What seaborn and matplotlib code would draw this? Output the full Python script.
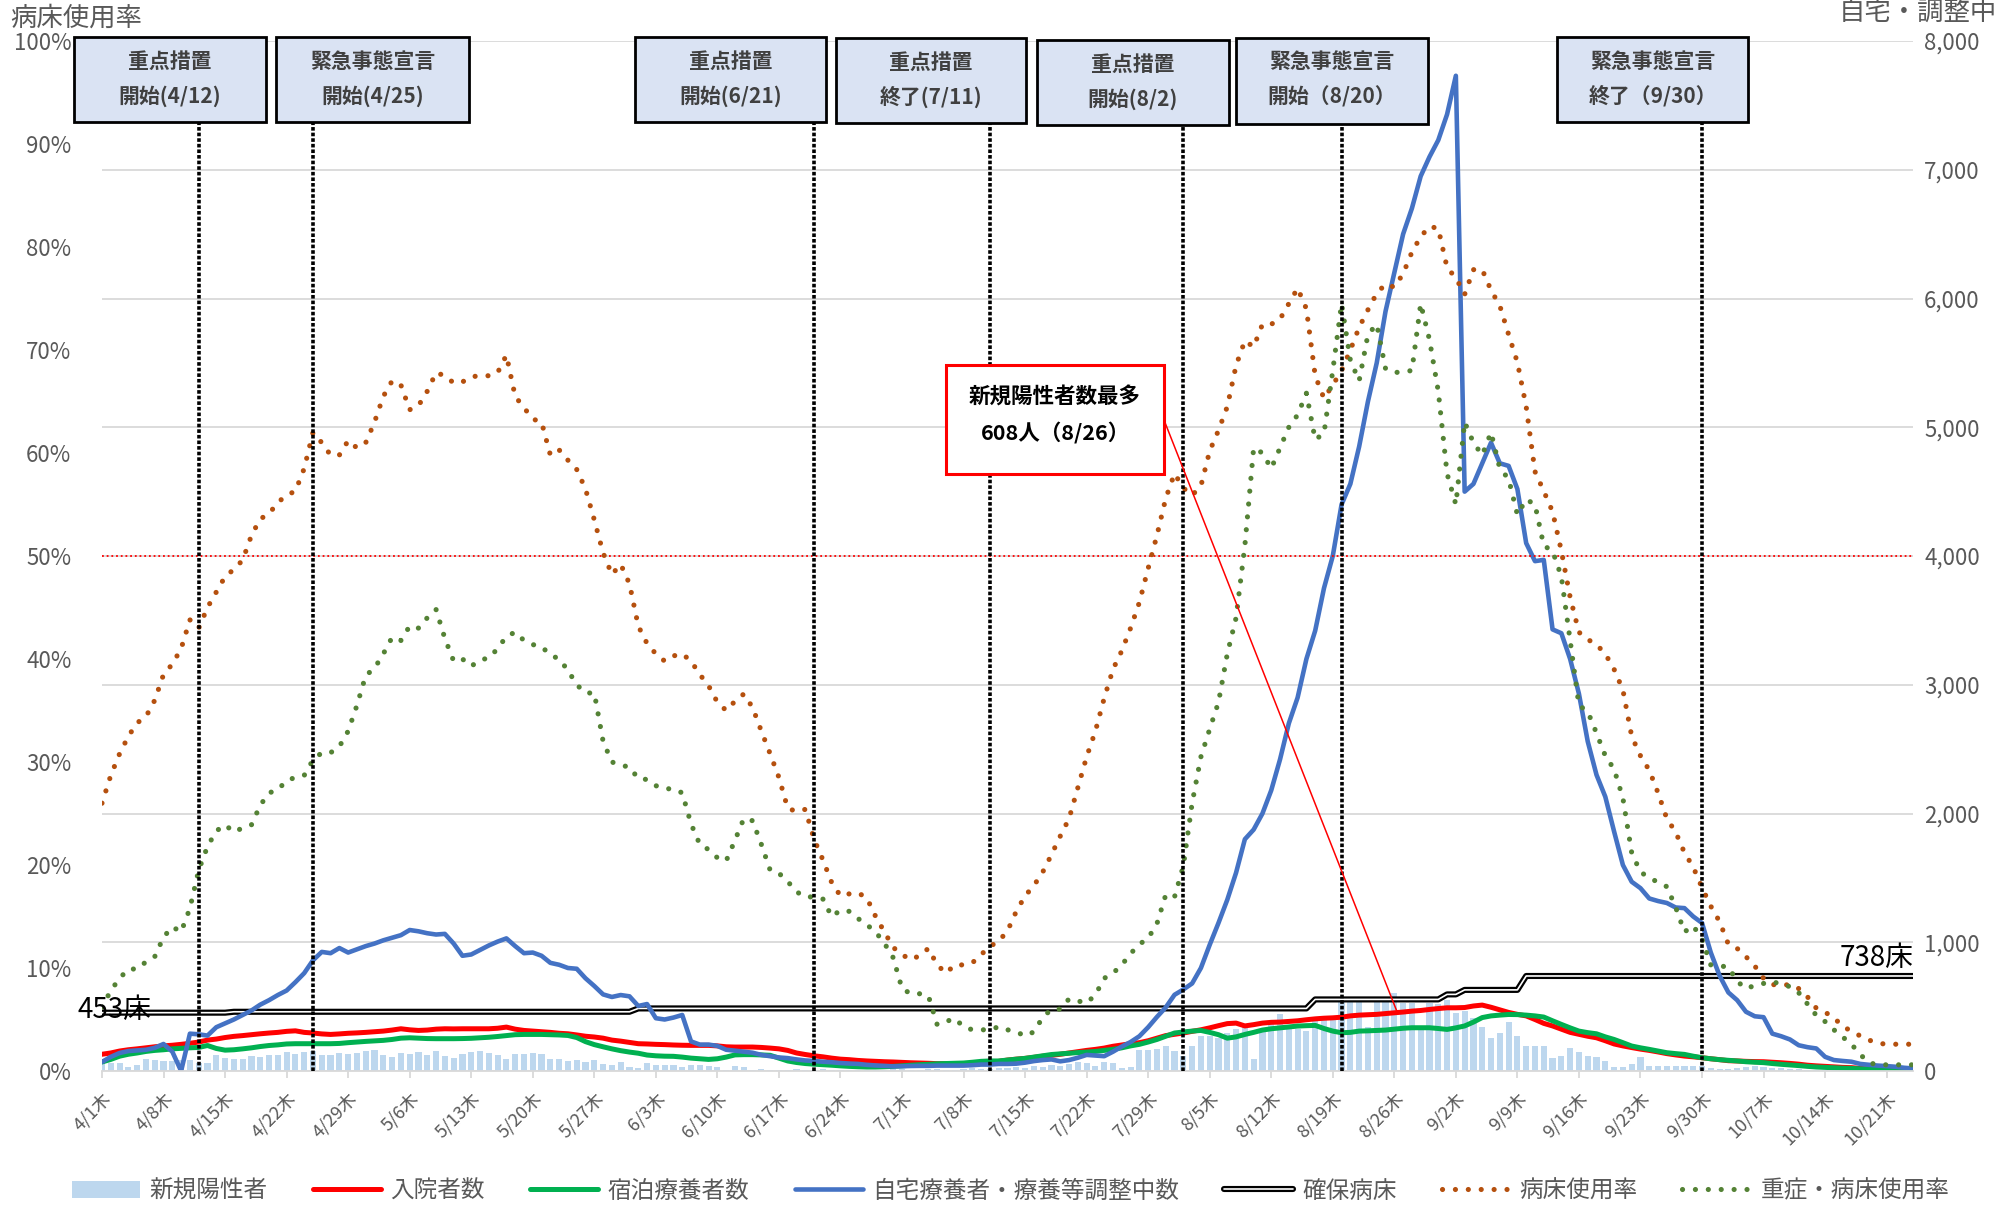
import numpy as np
import pandas as pd
import matplotlib
matplotlib.use("Agg")
import matplotlib.pyplot as plt
import matplotlib.patheffects as pe
from matplotlib.patches import Rectangle, Patch
from matplotlib.lines import Line2D
import seaborn as sns

# ---------------------------------------------------------------- data
dates = pd.date_range("2021-04-01", "2021-10-24", freq="D")

# daily new positive cases (right axis)
new_cases = [
    # Apr
    70, 62, 65, 31, 49, 95, 88, 78, 80, 85, 83, 62, 62, 127, 103, 93, 90, 114, 109, 121,
    124, 147, 134, 145, 152, 121, 121, 140, 134, 140,
    # May
    155, 160, 121, 109, 140, 129, 147, 121, 155, 114, 103, 129, 147, 155, 140, 121, 96, 129, 134, 140,
    129, 96, 96, 78, 88, 70, 83, 52, 44, 70, 31,
    # Jun
    26, 62, 49, 44, 49, 31, 49, 49, 36, 31, 10, 36, 31, 10, 16, 10, 5, 8, 12, 10,
    8, 12, 10, 6, 5, 8, 10, 9, 7, 12,
    # Jul
    15, 10, 8, 12, 14, 10, 9, 15, 20, 18, 15, 20, 25, 28, 22, 35, 30, 45, 40, 55,
    70, 60, 40, 70, 65, 20, 30, 160, 165, 170, 196,
    # Aug
    154, 120, 196, 273, 273, 257, 299, 324, 350, 93, 324, 376, 443, 350, 324, 314, 401, 412, 427, 556,
    556, 546, 340, 556, 566, 608, 530, 530, 350, 530, 520,
    # Sep
    550, 447, 467, 409, 343, 255, 293, 382, 274, 197, 197, 197, 100, 120, 177, 147, 120, 108, 81, 31,
    31, 54, 108, 39, 42, 42, 42, 42, 35, 35,
    # Oct
    25, 18, 15, 22, 30, 35, 30, 25, 20, 15, 12, 10, 8, 10, 12, 10, 8, 6, 8, 5,
    5, 4, 4, 3,
]

# inpatients (right axis)
hospitalized = [
    130, 140, 155, 165, 172, 180, 188, 195, 200, 207, 215, 225, 240, 248, 260, 269, 275, 282, 289, 295,
    300, 308, 312, 300, 295, 288, 284, 288, 293, 296,
    300, 305, 310, 318, 328, 320, 315, 318, 325, 328, 327, 328, 328, 328, 328, 332, 341, 325, 315, 310,
    305, 300, 293, 289, 280, 270, 264, 255, 240, 232, 222,
    212, 210, 207, 205, 202, 200, 199, 199, 199, 195, 188, 186, 186, 186, 183, 178, 172, 160, 140, 128,
    118, 110, 100, 92, 88, 82, 78, 75, 72, 70,
    67, 64, 62, 60, 57, 57, 57, 57, 58, 60, 62, 75, 85, 92, 98, 106, 115, 122, 130, 140,
    150, 160, 168, 178, 192, 202, 212, 220, 235, 255, 275,
    285, 295, 308, 320, 335, 352, 368, 372, 350, 360, 372, 378, 380, 385, 390, 398, 405, 410, 413, 418,
    428, 434, 437, 440, 446, 452, 458, 465, 470, 478, 485,
    491, 491, 493, 505, 512, 495, 475, 455, 440, 428, 400, 370, 350, 325, 300, 285, 270, 258, 235, 210,
    195, 182, 170, 160, 148, 135, 125, 116, 110, 103,
    95, 88, 80, 78, 75, 73, 72, 68, 64, 59, 53, 45, 40, 36, 32, 28, 26, 20, 16, 13,
    11, 9, 8, 7,
]

# hotel recuperation (right axis)
hotel = [
    70, 90, 115, 130, 140, 152, 160, 165, 172, 176, 180, 183, 198, 175, 162, 165, 172, 180, 190, 198,
    203, 210, 212, 212, 212, 212, 212, 214, 220, 225,
    230, 234, 238, 245, 255, 258, 255, 252, 251, 251, 251, 252, 254, 258, 262, 268, 275, 282, 284, 284,
    284, 282, 280, 276, 260, 228, 205, 188, 172, 158, 147,
    138, 124, 118, 115, 114, 108, 100, 95, 90, 95, 108, 125, 127, 127, 125, 122, 100, 78, 66, 58,
    53, 49, 45, 40, 36, 33, 31, 31, 33, 36,
    40, 45, 49, 52, 56, 58, 60, 62, 68, 75, 78, 78, 85, 92, 98, 108, 118, 128, 133, 138,
    143, 147, 152, 160, 168, 180, 195, 207, 225, 245, 270,
    295, 303, 310, 315, 300, 282, 255, 265, 284, 300, 318, 328, 335, 342, 349, 352, 354, 330, 310, 297,
    300, 310, 312, 315, 318, 325, 332, 336, 336, 336, 330,
    323, 335, 350, 380, 415, 428, 434, 439, 438, 434, 428, 419, 390, 362, 335, 310, 298, 289, 265, 245,
    220, 194, 180, 168, 155, 142, 135, 129, 115, 103,
    95, 88, 83, 78, 72, 68, 65, 58, 52, 47, 42, 36, 31, 28, 25, 22, 20, 17, 15, 13,
    11, 9, 8, 7,
]

# home care / awaiting placement (right axis)
home = [
    70, 110, 140, 155, 160, 165, 180, 210, 150, 0, 290, 285, 275, 340, 370, 400, 435, 470, 515, 550,
    590, 625, 690, 760, 860, 925, 915, 955, 920, 945,
    970, 990, 1015, 1035, 1055, 1095, 1085, 1070, 1060, 1065, 990, 895, 905, 940, 975, 1005, 1030, 970, 915, 920,
    895, 840, 825, 800, 794, 720, 660, 595, 575, 590, 580,
    505, 520, 410, 400, 415, 435, 230, 205, 205, 195, 165, 158, 150, 142, 125, 115, 105, 100, 90, 82,
    78, 72, 68, 62, 58, 55, 48, 43, 40, 36,
    37, 39, 40, 40, 42, 42, 42, 42, 45, 50, 50, 55, 55, 57, 65, 77, 85, 90, 75, 85,
    103, 125, 120, 115, 150, 190, 225, 270, 340, 420, 494,
    592, 633, 680, 800, 980, 1150, 1330, 1540, 1800, 1875, 2000, 2180, 2420, 2700, 2900, 3200, 3420, 3750, 4000, 4400,
    4560, 4850, 5200, 5500, 5900, 6200, 6500, 6700, 6950, 7100, 7230,
    7430, 7730, 4500, 4560, 4720, 4880, 4720, 4700, 4520, 4100, 3960, 3970, 3430, 3400, 3200, 2930, 2560, 2300, 2130, 1860,
    1600, 1470, 1420, 1340, 1320, 1305, 1270, 1265, 1200, 1150,
    920, 740, 610, 550, 460, 425, 418, 290, 270, 245, 200, 185, 175, 110, 85, 78, 72, 55, 48, 42,
    38, 33, 25, 20,
]

# secured hospital beds (right axis)
secured_beds = [
    453, 453, 453, 453, 453, 453, 453, 453, 453, 453, 453, 453, 453, 453, 453, 460, 460, 460, 460, 460,
    460, 460, 460, 460, 460, 460, 460, 460, 460, 460,
    460, 460, 460, 460, 460, 460, 460, 460, 460, 460, 460, 460, 460, 460, 460, 460, 460, 460, 460, 460,
    460, 460, 460, 460, 460, 460, 460, 460, 460, 460, 460,
    486, 486, 486, 486, 486, 486, 486, 486, 486, 486, 486, 486, 486, 486, 486, 486, 486, 486, 486, 486,
    486, 486, 486, 486, 486, 486, 486, 486, 486, 486,
    486, 486, 486, 486, 486, 486, 486, 486, 486, 486, 486, 486, 486, 486, 486, 486, 486, 486, 486, 486,
    486, 486, 486, 486, 486, 486, 486, 486, 486, 486, 486,
    486, 486, 486, 486, 486, 486, 486, 486, 486, 486, 486, 486, 486, 486, 486, 486, 556, 556, 556, 556,
    556, 556, 556, 556, 556, 556, 556, 556, 556, 556, 556,
    595, 595, 630, 630, 630, 630, 630, 630, 630, 738, 738, 738, 738, 738, 738, 738, 738, 738, 738, 738,
    738, 738, 738, 738, 738, 738, 738, 738, 738, 738,
    738, 738, 738, 738, 738, 738, 738, 738, 738, 738, 738, 738, 738, 738, 738, 738, 738, 738, 738, 738,
    738, 738, 738, 738,
]

# bed occupancy rate, % (left axis)
bed_rate = [
    26.0, 28.7, 30.8, 32.5, 33.8, 34.4, 36.0, 38.5, 39.5, 41.0, 43.8, 43.0, 45.0, 46.5, 48.0, 48.7, 49.6, 52.0, 53.6, 54.1,
    55.2, 55.9, 56.3, 58.5, 62.0, 61.0, 59.8, 59.8, 61.2, 60.5,
    61.0, 63.0, 65.5, 67.0, 66.6, 64.2, 64.6, 66.0, 67.8, 67.5, 66.8, 66.9, 67.4, 67.5, 67.5, 67.8, 69.5, 65.5, 64.4, 63.3,
    63.0, 59.8, 60.3, 59.3, 58.4, 56.5, 53.5, 50.3, 48.2, 49.2, 47.3,
    43.2, 41.5, 40.5, 39.8, 40.3, 40.5, 39.8, 38.5, 37.4, 35.8, 35.0, 35.9, 36.6, 35.3, 33.0, 30.8, 28.5, 25.5, 25.2, 25.4,
    22.5, 20.5, 18.3, 17.0, 17.2, 17.3, 16.8, 15.0, 13.5, 12.0,
    11.3, 10.8, 11.2, 11.9, 10.3, 9.5, 10.3, 10.3, 10.5, 11.3, 12.1, 12.6, 13.6, 15.5, 17.0, 18.0, 19.3, 21.0, 22.8, 24.5,
    27.5, 30.5, 33.0, 36.2, 39.0, 40.8, 43.0, 45.5, 48.8, 52.0, 55.6,
    58.0, 56.6, 55.9, 56.8, 60.2, 62.2, 64.5, 68.5, 70.9, 70.3, 72.5, 72.5, 73.0, 74.5, 76.0, 74.0, 67.5, 65.3, 66.6, 68.0,
    70.0, 72.2, 73.9, 75.5, 76.4, 76.1, 77.4, 79.5, 81.0, 82.0, 81.8,
    78.0, 77.0, 75.4, 77.8, 77.8, 75.8, 74.3, 71.5, 68.8, 64.5, 58.2, 56.3, 54.3, 50.5, 46.0, 42.6, 41.9, 41.4, 40.5, 39.0,
    37.0, 32.5, 30.6, 29.2, 27.0, 24.5, 23.2, 21.2, 19.8, 17.8,
    16.0, 14.5, 12.3, 11.9, 11.1, 10.2, 9.0, 8.4, 8.3, 8.4, 8.0, 7.2, 6.1, 5.7, 5.2, 4.3, 3.9, 3.4, 3.0, 2.7,
    2.6, 2.6, 2.6, 2.6,
]

# severe-case bed occupancy rate, % (left axis)
severe_rate = [
    6.2, 7.8, 9.0, 9.9, 9.9, 10.6, 11.1, 13.0, 14.0, 13.5, 15.8, 19.5, 21.8, 23.3, 23.9, 23.2, 23.6, 23.9, 25.8, 27.0,
    27.3, 28.2, 28.5, 28.7, 30.2, 30.9, 30.9, 31.5, 33.0, 35.5,
    38.4, 39.1, 40.5, 42.1, 41.8, 43.2, 43.0, 44.0, 44.8, 42.0, 39.8, 40.0, 39.3, 39.9, 40.1, 41.0, 42.2, 42.6, 41.8, 41.4,
    41.2, 40.4, 40.0, 38.9, 37.5, 36.7, 36.7, 32.0, 30.0, 29.7, 29.5,
    28.4, 28.3, 27.7, 27.4, 27.4, 27.0, 24.0, 22.0, 21.5, 20.7, 20.4, 22.4, 24.5, 24.3, 22.0, 19.5, 19.2, 18.4, 17.4, 16.9,
    16.9, 16.7, 15.0, 15.6, 15.5, 14.8, 14.2, 13.5, 12.4, 11.0,
    8.0, 7.5, 7.5, 7.3, 4.5, 4.8, 5.1, 4.3, 4.0, 4.0, 4.0, 4.3, 4.0, 3.8, 3.4, 3.8, 5.2, 6.0, 6.0, 7.0,
    6.8, 6.6, 7.4, 9.0, 9.5, 10.3, 11.4, 12.3, 12.9, 14.3, 17.1,
    16.9, 19.9, 26.0, 30.5, 33.2, 35.8, 40.5, 44.0, 51.0, 60.5, 60.0, 58.5, 60.5, 62.5, 63.7, 65.8, 61.3, 61.9, 68.0, 74.5,
    69.0, 67.0, 71.5, 72.5, 68.2, 67.8, 67.9, 68.0, 74.5, 71.0, 66.0,
    58.0, 55.0, 63.0, 61.0, 59.8, 62.0, 58.5, 57.5, 54.0, 55.5, 55.0, 51.0, 50.5, 48.0, 41.8, 35.5, 34.9, 32.8, 30.6, 29.3,
    26.5, 21.2, 19.3, 18.8, 18.3, 17.9, 15.9, 13.5, 14.1, 12.8,
    10.3, 10.2, 10.1, 8.7, 8.0, 8.3, 8.5, 8.7, 8.4, 8.2, 7.6, 6.5, 5.4, 4.8, 4.0, 3.3, 2.6, 1.6, 0.8, 0.6,
    0.6, 0.6, 0.6, 0.6,
]

# policy events: (date, first line, second line)
events = [
    ("2021-04-12", "重点措置", "開始(4/12)"),
    ("2021-04-25", "緊急事態宣言", "開始(4/25)"),
    ("2021-06-21", "重点措置", "開始(6/21)"),
    ("2021-07-11", "重点措置", "終了(7/11)"),
    ("2021-08-02", "重点措置", "開始(8/2)"),
    ("2021-08-20", "緊急事態宣言", "開始（8/20）"),
    ("2021-09-30", "緊急事態宣言", "終了（9/30）"),
]
peak_date = "2021-08-26"

df = pd.DataFrame({
    "day": (dates - dates[0]).days,
    "new_cases": new_cases,
    "hospitalized": hospitalized,
    "hotel": hotel,
    "home": home,
    "beds": secured_beds,
    "bed_rate": bed_rate,
    "severe_rate": severe_rate,
})

# ---------------------------------------------------------------- style
sns.set_theme(style="white")
plt.rcParams["font.family"] = ["Noto Sans CJK JP", "DejaVu Sans"]
plt.rcParams["axes.unicode_minus"] = False

W, H = 2013, 1205
GRAY = "#595959"
C_BAR = "#bdd7ee"
C_RED = "#ff0000"
C_GREEN = "#00b050"
C_BLUE = "#4472c4"
C_BROWN = "#b5500e"
C_DGREEN = "#548235"
DOT = (0, (0.01, 2.5))
DOT_LW = 3.7


def fx(px):
    return px / W


def fy(py):
    return 1 - py / H


fig = plt.figure(figsize=(W / 100, H / 100), dpi=100)
ax = fig.add_axes([fx(102), fy(1071), (1913 - 102) / W, (1071 - 41) / H])
ax2 = ax.twinx()

# ------------------------------------------------ right axis: counts
sns.barplot(data=df, x="day", y="new_cases", native_scale=True, ax=ax2,
            color=C_BAR, saturation=1, width=0.7, linewidth=0, errorbar=None)
sns.lineplot(data=df, x="day", y="beds", ax=ax2, color="white", lw=1.2,
             errorbar=None, estimator=None, sort=False,
             path_effects=[pe.Stroke(linewidth=4.4, foreground="black"), pe.Normal()])
sns.lineplot(data=df, x="day", y="hospitalized", ax=ax2, color=C_RED, lw=3.6,
             errorbar=None, estimator=None, sort=False)
sns.lineplot(data=df, x="day", y="hotel", ax=ax2, color=C_GREEN, lw=3.6,
             errorbar=None, estimator=None, sort=False)
sns.lineplot(data=df, x="day", y="home", ax=ax2, color=C_BLUE, lw=3.3,
             errorbar=None, estimator=None, sort=False)

# ------------------------------------------------ left axis: rates
ax.axhline(50, color=C_RED, lw=1.3, ls=(0, (1, 1.6)), zorder=2)
sns.lineplot(data=df, x="day", y="bed_rate", ax=ax, color=C_BROWN, lw=DOT_LW,
             linestyle=DOT, dash_capstyle="round", errorbar=None, estimator=None, sort=False)
sns.lineplot(data=df, x="day", y="severe_rate", ax=ax, color=C_DGREEN, lw=DOT_LW,
             linestyle=DOT, dash_capstyle="round", errorbar=None, estimator=None, sort=False)

event_days = [(pd.Timestamp(d) - dates[0]).days for d, _, _ in events]
for d in event_days:
    ax.plot([d, d], [0, 95], color="black", lw=2.6, ls=(0, (1, 0.55)),
            solid_capstyle="butt", zorder=4)

# ------------------------------------------------ axes cosmetics
ax.set_zorder(ax2.get_zorder() + 1)
ax.patch.set_visible(False)

ax.set_xlim(0, len(dates) - 1)
ax.set_ylim(0, 100)
ax2.set_ylim(0, 8000)

tick_days = list(range(0, len(dates), 7))
ax.set_xticks(tick_days)
ax.set_xticklabels([f"{dates[i].month}/{dates[i].day}木" for i in tick_days],
                   rotation=45, ha="right", va="top", rotation_mode="anchor")
ax.tick_params(axis="x", length=5, width=1.3, color="#d9d9d9", pad=8,
               labelsize=13, labelcolor=GRAY, bottom=True)

ax.set_yticks(range(0, 101, 10))
ax.set_yticklabels([f"{v}%" for v in range(0, 101, 10)])
ax.tick_params(axis="y", length=0, pad=22, labelsize=16, labelcolor=GRAY)

ax2.set_yticks(range(0, 8001, 1000))
ax2.set_yticklabels([f"{v:,}" for v in range(0, 8001, 1000)])
ax2.tick_params(axis="y", length=0, pad=8, labelsize=16, labelcolor=GRAY)

ax.grid(False)
ax2.grid(False)
ax2.yaxis.grid(True, color="#d9d9d9", lw=1.3)
ax2.set_axisbelow(True)

for s in ["left", "right", "top"]:
    ax.spines[s].set_visible(False)
ax.spines["bottom"].set_color("#d9d9d9")
ax.spines["bottom"].set_linewidth(1.3)
for s in ax2.spines.values():
    s.set_visible(False)

for a in (ax, ax2):
    a.set_xlabel("")
    a.set_ylabel("")

# axis captions
fig.text(fx(10), fy(18), "病床使用率", fontsize=19, color=GRAY, ha="left", va="center")
fig.text(fx(1997), fy(12), "自宅・調整中", fontsize=19, color=GRAY, ha="right", va="center")

# secured-bed labels
fig.text(fx(77), fy(1010), f"{secured_beds[0]}床", fontsize=20, color="black",
         ha="left", va="center")
fig.text(fx(1840), fy(958), f"{secured_beds[-1]}床", fontsize=20, color="black",
         ha="left", va="center")

# ------------------------------------------------ event boxes
box_px = [
    (74, 37, 266, 122),
    (276, 37, 469, 122),
    (635, 37, 826, 122),
    (836, 38, 1026, 123),
    (1037, 40, 1229, 125),
    (1236, 38, 1428, 124),
    (1557, 37, 1748, 122),
]
for (x0, y0, x1, y1), (_, l1, l2) in zip(box_px, events):
    fig.add_artist(Rectangle((fx(x0), fy(y1)), (x1 - x0) / W, (y1 - y0) / H,
                             transform=fig.transFigure, facecolor="#dae3f3",
                             edgecolor="black", lw=2.0, zorder=5))
    cx = fx((x0 + x1) / 2)
    fig.text(cx, fy(y0 + 24), l1, fontsize=15, fontweight="bold", color="#404040",
             ha="center", va="center", zorder=6)
    fig.text(cx, fy(y0 + 59), l2, fontsize=15, fontweight="bold", color="#404040",
             ha="center", va="center", zorder=6)

# ------------------------------------------------ peak annotation
peak_day = (pd.Timestamp(peak_date) - dates[0]).days
peak_val = new_cases[peak_day]
ax.annotate("", xy=(peak_day + 0.3, peak_val * 0.76), xycoords=ax2.transData,
            xytext=(fx(1164), fy(420)), textcoords="figure fraction",
            arrowprops=dict(arrowstyle="-", color=C_RED, lw=1.1, shrinkA=0, shrinkB=0),
            zorder=6)
fig.add_artist(Rectangle((fx(946), fy(474)), (1164 - 946) / W, (474 - 365) / H,
                         transform=fig.transFigure, facecolor="white",
                         edgecolor=C_RED, lw=2.2, zorder=5))
fig.text(fx(1055), fy(397), "新規陽性者数最多", fontsize=15.5, fontweight="bold",
         color="black", ha="center", va="center", zorder=6)
fig.text(fx(1055), fy(433), f"{peak_val}人（8/26）", fontsize=15.5, fontweight="bold",
         color="black", ha="center", va="center", zorder=6)

# ------------------------------------------------ legend
handles = [
    Patch(facecolor=C_BAR, edgecolor="none"),
    Line2D([0], [0], color=C_RED, lw=3.6),
    Line2D([0], [0], color=C_GREEN, lw=3.6),
    Line2D([0], [0], color=C_BLUE, lw=3.3),
    Line2D([0], [0], color="white", lw=1.2,
           path_effects=[pe.Stroke(linewidth=4.4, foreground="black"), pe.Normal()]),
    Line2D([0], [0], color=C_BROWN, lw=DOT_LW, ls=DOT, dash_capstyle="round"),
    Line2D([0], [0], color=C_DGREEN, lw=DOT_LW, ls=DOT, dash_capstyle="round"),
]
labels = ["新規陽性者", "入院者数", "宿泊療養者数", "自宅療養者・療養等調整中数",
          "確保病床", "病床使用率", "重症・病床使用率"]
leg = fig.legend(handles, labels, loc="center", bbox_to_anchor=(0.502, fy(1191)),
                 ncol=7, frameon=False, fontsize=17, handlelength=2.9,
                 handletextpad=0.4, columnspacing=1.9)
for t in leg.get_texts():
    t.set_color(GRAY)

fig.savefig("out.png", dpi=100)
